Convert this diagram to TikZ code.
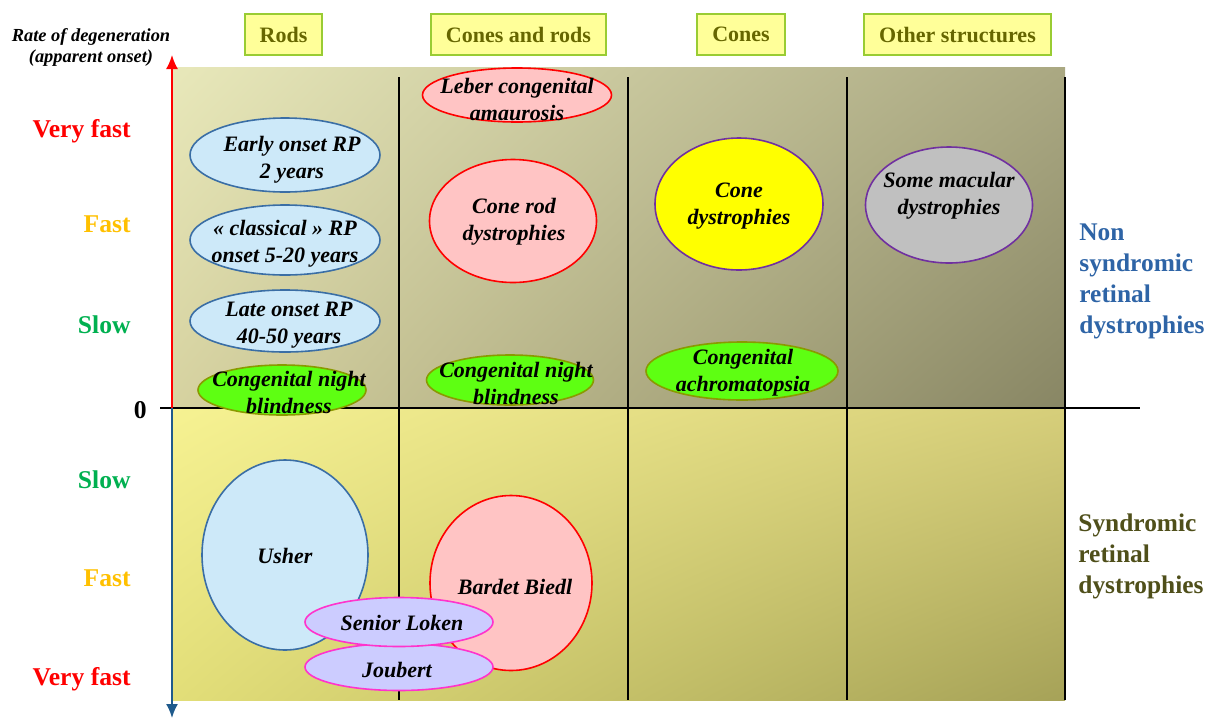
\documentclass[tikz,border=0pt]{standalone}
\usepackage{fontspec}
\setmainfont{Liberation Serif}
\usepackage{tikz}
\usetikzlibrary{positioning,arrows.meta,shapes.geometric,shadings}
\definecolor{headfill}{HTML}{FFFF99}
\definecolor{headline}{HTML}{99CC33}
\definecolor{headtext}{HTML}{666600}
\definecolor{rodfill}{HTML}{CDE9F9}
\definecolor{rodline}{HTML}{3A6EA5}
\definecolor{pinkfill}{HTML}{FFC4C4}
\definecolor{greenfill}{HTML}{5EFF12}
\definecolor{greenline}{HTML}{8A9A00}
\definecolor{conefill}{HTML}{FFFF00}
\definecolor{purpleline}{HTML}{7030A0}
\definecolor{grayfill}{HTML}{C0C0C0}
\definecolor{lavfill}{HTML}{CCCCFF}
\definecolor{magline}{HTML}{FF33CC}
\definecolor{fastcol}{HTML}{FFC000}
\definecolor{slowcol}{HTML}{00B050}
\definecolor{nonsyn}{HTML}{2E64A6}
\definecolor{syn}{HTML}{4F4F1A}
\definecolor{axisblue}{HTML}{1F5A8C}
\definecolor{topUL}{RGB}{232,232,186}
\definecolor{topUR}{RGB}{170,168,130}
\definecolor{topLL}{RGB}{214,210,160}
\definecolor{topLR}{RGB}{136,134,100}
\definecolor{botUL}{RGB}{246,242,146}
\definecolor{botUR}{RGB}{214,206,122}
\definecolor{botLL}{RGB}{226,222,120}
\definecolor{botLR}{RGB}{166,162,88}
\tikzset{
    head/.style = {
        draw=headline,
        fill=headfill,
        line width=1pt,
        minimum height=20.5pt,
        inner xsep=7.4pt,
        text=headtext,
        font=\bfseries\fontsize{11}{13}\selectfont
    },
    oval/.style = {
        draw,
        shape=ellipse,
        inner sep=0pt,
        line width=0.8pt
    },
    rodoval/.style = {oval, draw=rodline, fill=rodfill},
    pinkoval/.style = {oval, draw=red, fill=pinkfill},
    greenoval/.style = {oval, draw=greenline, fill=greenfill},
    coneoval/.style = {oval, draw=purpleline, fill=conefill},
    grayoval/.style = {oval, draw=purpleline, fill=grayfill},
    syndoval/.style = {oval, draw=magline, fill=lavfill},
    etext/.style = {
        align=center,
        inner sep=0pt,
        font=\bfseries\itshape\fontsize{11}{13.5}\selectfont
    },
    rate/.style = {
        anchor=east,
        inner sep=0pt,
        font=\bfseries\fontsize{12.8}{15}\selectfont
    },
    group/.style = {
        anchor=west,
        align=left,
        inner sep=0pt,
        font=\bfseries\fontsize{12.7}{15.5}\selectfont
    },
    >={Latex[length=7pt,width=6pt]},
}
\begin{document}
\begin{tikzpicture}[x=0.5pt, y=-0.5pt]
                \useasboundingbox (0,0) rectangle (1217,719);

                % panels
                \shade[upper left=topUL, upper right=topUR,
                       lower left=topLL, lower right=topLR]
                    (172,67) rectangle (1065,408);
                \shade[upper left=botUL, upper right=botUR,
                       lower left=botLL, lower right=botLR]
                    (172,408) rectangle (1065,700);

                \foreach \x/\n in {399/a,628/b,847/c,1065/d} {
                    \coordinate (col\n top) at (\x,77);
                    \coordinate (col\n bot) at (\x,700);
                    \path[draw, line width=0.8pt] (col\n top) -- (col\n bot);
                }

                \coordinate (orig) at (172,408);
                \coordinate (ytop) at (172,55);
                \coordinate (ybot) at (172,718);
                \coordinate (xl) at (160,408);
                \coordinate (xr) at (1140,408);
                \path[draw, line width=1pt] (xl) -- (xr);
                \path[draw, red, line width=0.9pt, ->] (orig) -- (ytop);
                \path[draw, axisblue, line width=0.9pt, ->] (orig) -- (ybot);

                % headers
                \node[head] (rods) at (283.5,34.5) {Rods};
                \node[head] (conesrods) at (518.5,34.5) {Cones and rods};
                \node[head] (cones) at (741,34.5) {Cones};
                \node[head] (other) at (957.5,34.5) {Other structures};

                % axis labels
                \node[etext, font=\bfseries\itshape\fontsize{9.2}{10.5}\selectfont]
                    (ratelbl) at (91,47) {Rate of degeneration\\(apparent onset)};
                \node[rate, text=red] (vf1) at (131,131) {Very fast};
                \node[rate, text=fastcol] (f1) at (131,224) {Fast};
                \node[rate, text=slowcol] (s1) at (131,325) {Slow};
                \node[rate] (zero) at (147,410) {0};
                \node[rate, text=slowcol] (s2) at (131,480) {Slow};
                \node[rate, text=fastcol] (f2) at (131,578) {Fast};
                \node[rate, text=red] (vf2) at (131,679) {Very fast};

                \node[group, text=nonsyn] (nonsynd) at (1079,281)
                    {Non\\syndromic\\retinal\\dystrophies};
                \node[group, text=syn] (synd) at (1078,556)
                    {Syndromic\\retinal\\dystrophies};

                % rods
                \node[rodoval, minimum width=95pt, minimum height=37pt] (early) at (285,155) {};
                \node[etext] (early-t) at (292,160) {Early onset RP\\2 years};
                \node[rodoval, minimum width=95pt, minimum height=35pt] (classic) at (285,240) {};
                \node[etext] (classic-t) at (285,244) {« classical » RP\\onset 5-20 years};
                \node[rodoval, minimum width=95pt, minimum height=31pt] (late) at (285,321) {};
                \node[etext] (late-t) at (289,325) {Late onset RP\\40-50 years};
                \node[greenoval, minimum width=84pt, minimum height=25pt] (cnbrod) at (282,390) {};
                \node[etext] (cnbrod-t) at (289,392) {Congenital night\\blindness};

                % cones and rods
                \node[pinkoval, minimum width=94.5pt, minimum height=27pt] (leber) at (517,95) {};
                \node[etext] (leber-t) at (517,99) {Leber congenital\\amaurosis};
                \node[pinkoval, minimum width=83.5pt, minimum height=61.5pt] (conerod) at (513,221) {};
                \node[etext] (conerod-t) at (514,222) {Cone rod\\dystrophies};
                \node[greenoval, minimum width=83.5pt, minimum height=25pt] (cnbcr) at (510,380) {};
                \node[etext] (cnbcr-t) at (516,383) {Congenital night\\blindness};

                % cones
                \node[coneoval, minimum width=84pt, minimum height=66pt] (conedys) at (739,204) {};
                \node[etext] (conedys-t) at (739,206) {Cone\\dystrophies};
                \node[greenoval, minimum width=96pt, minimum height=29pt] (achrom) at (742,371) {};
                \node[etext] (achrom-t) at (743,373) {Congenital\\achromatopsia};

                % other structures
                \node[grayoval, minimum width=83.5pt, minimum height=58pt] (macular) at (949,205) {};
                \node[etext] (macular-t) at (949,196) {Some macular\\dystrophies};

                % syndromic
                \node[rodoval, minimum width=83pt, minimum height=95pt] (usher) at (285,555) {};
                \node[etext] (usher-t) at (285,556) {Usher};
                \node[pinkoval, minimum width=81pt, minimum height=87.5pt] (bardet) at (511,583) {};
                \node[etext] (bardet-t) at (515,587) {Bardet Biedl};
                \node[syndoval, minimum width=94pt, minimum height=23.5pt] (joubert) at (399,667) {};
                \node[etext] (joubert-t) at (397,670) {Joubert};
                \node[syndoval, minimum width=94pt, minimum height=24.5pt] (senior) at (399,622) {};
                \node[etext] (senior-t) at (402,623) {Senior Loken};
            \end{tikzpicture}
\end{document}
